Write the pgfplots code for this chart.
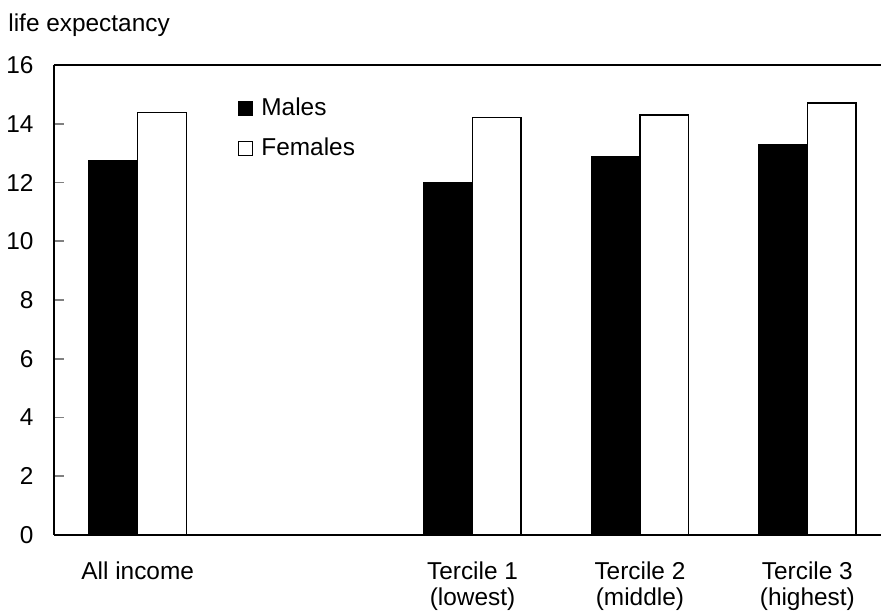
\documentclass[border=0pt]{standalone}
\usepackage{pgfplots}
\pgfplotsset{compat=1.18}
\usepackage{fontspec}
\setmainfont{Liberation Sans}

\begin{document}
\begin{tikzpicture}[font=\fontsize{12.2}{13}\selectfont]
\begin{axis}[
    scale only axis,
    width=413.5pt, height=235pt,
    xmin=-0.5, xmax=4.44,
    ymin=0, ymax=16,
    ytick={0,2,...,16},
    xtick={0,2,3,4},
    xticklabels={All income, Tercile 1\\(lowest), Tercile 2\\(middle), Tercile 3\\(highest)},
    xticklabel style={align=center, anchor=north, yshift=-10pt},
    yticklabel style={anchor=east, xshift=-6.7pt},
    major x tick style={draw=none},
    axis x line=box, axis y line=left,
    axis line style={-, line width=0.8pt},
    tick align=inside,
    major tick length=5pt,
    major tick style={line width=0.8pt},
    /pgf/number format/assume math mode=true,
    bar width=0.29,
    legend style={draw=none, fill=none, at={(rel axis cs:0.215,0.947)}, anchor=north west,
        row sep=5.5pt, nodes={inner sep=2pt}},
    legend cell align=left,
]
\addplot[ybar, fill=black, draw=black, line width=0.75pt, bar shift=-0.145,
    legend image code/.code={\draw[fill=black, draw=black, line width=0.6pt] (0pt,-3.5pt) rectangle (7pt,3.5pt);}]
    coordinates {(0,12.75) (2,12.00) (3,12.88) (4,13.28)};
\addlegendentry{\hspace{2pt}Males}
\addplot[ybar, fill=white, draw=black, line width=0.75pt, bar shift=0.145,
    legend image code/.code={\draw[fill=white, draw=black, line width=0.6pt] (0pt,-3.5pt) rectangle (7pt,3.5pt);}]
    coordinates {(0,14.38) (2,14.22) (3,14.30) (4,14.70)};
\addlegendentry{\hspace{2pt}Females}
\end{axis}
\node[anchor=base west, inner sep=0pt] at ([xshift=-23pt, yshift=16.5pt]current axis.north west) {life expectancy};
\pgfresetboundingbox
\path[use as bounding box] ([xshift=-27pt, yshift=-39pt]current axis.south west) rectangle ([yshift=32.5pt]current axis.north east);
\end{tikzpicture}
\end{document}
